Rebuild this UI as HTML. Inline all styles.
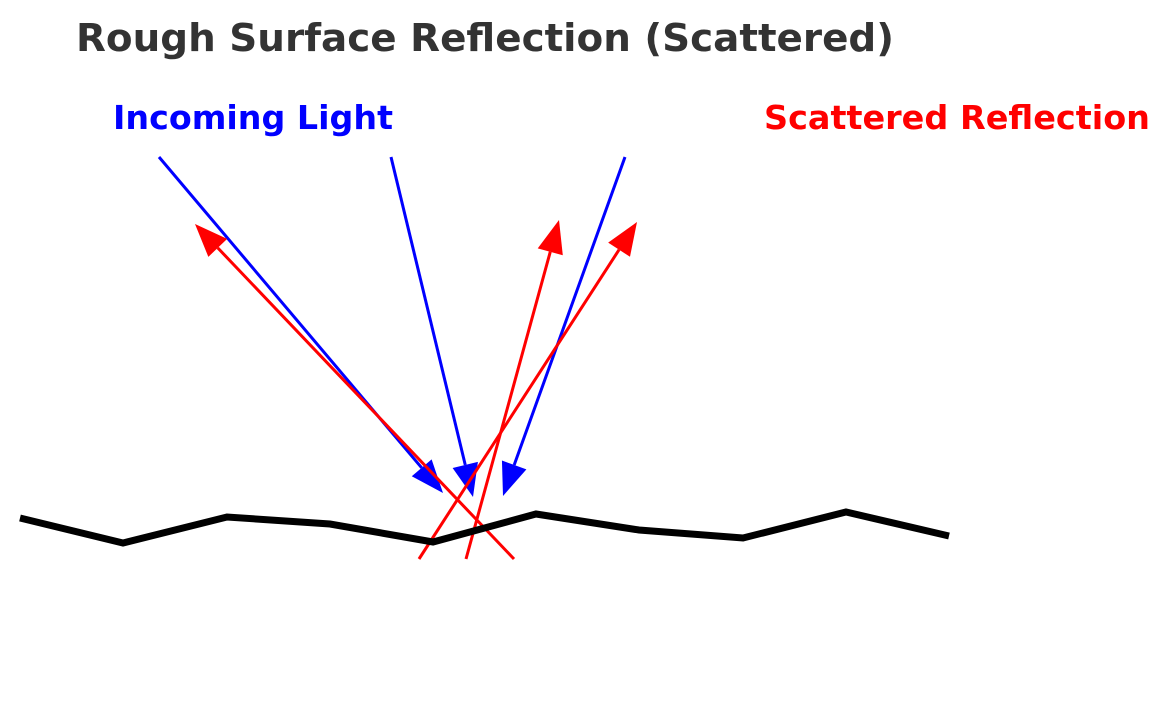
<!DOCTYPE html>
<html><head><meta charset="utf-8"><style>
body{margin:0;background:#fff;}
svg{display:block;font-family:"DejaVu Sans","Liberation Sans",sans-serif;font-weight:bold;}
</style></head><body>
<svg id="chart" width="1170" height="702" viewBox="0 0 1170 702">
<text x="76" y="51" font-size="38" fill="#333" textLength="818" lengthAdjust="spacingAndGlyphs">Rough Surface Reflection (Scattered)</text>
<text x="113" y="129" font-size="33" fill="#0000ff" textLength="280" lengthAdjust="spacingAndGlyphs">Incoming Light</text>
<text x="764" y="129" font-size="33" fill="#ff0000" textLength="386" lengthAdjust="spacingAndGlyphs">Scattered Reflection</text>
<g id="rays"></g>
</svg>
<script>
const surfaceX=[20,123,227,330,433,536,639,743,846,949];
const surfaceY=[518,543,517,524,542,514,530,538,512,536];
const incomingStart=[[159,157],[391,157],[625,157]];
const incomingEnd=[[443,493],[473,497],[503,496]];
const reflectStart=[[514,559],[466,559],[419,559]];
const reflectEnd=[[195,224],[559,220],[637,222]];
const NS='http://www.w3.org/2000/svg';
const g=document.getElementById('rays');
function arrow(s,e,color,name){
  const dx=e[0]-s[0],dy=e[1]-s[1],L=Math.hypot(dx,dy),ux=dx/L,uy=dy/L;
  const hl=33,hw=13;
  const bx=e[0]-ux*hl,by=e[1]-uy*hl;
  const ln=document.createElementNS(NS,'line');
  
  
  ln.setAttribute('x1',s[0]);ln.setAttribute('y1',s[1]);
  ln.setAttribute('x2',bx);ln.setAttribute('y2',by);
  ln.setAttribute('stroke',color);ln.setAttribute('stroke-width','3');
  g.appendChild(ln);
  const p=document.createElementNS(NS,'polygon');
  
  
  p.setAttribute('points',`${e[0]},${e[1]} ${bx-uy*hw},${by+ux*hw} ${bx+uy*hw},${by-ux*hw}`);
  p.setAttribute('fill',color);
  g.appendChild(p);
}
incomingStart.forEach((s,i)=>arrow(s,incomingEnd[i],'#0000ff','incoming-ray-'+(i+1)));
reflectStart.forEach((s,i)=>arrow(s,reflectEnd[i],'#ff0000','scattered-ray-'+(i+1)));
const pl=document.createElementNS(NS,'polyline');


pl.setAttribute('points',surfaceX.map((x,i)=>x+','+surfaceY[i]).join(' '));
pl.setAttribute('fill','none');pl.setAttribute('stroke','#000');pl.setAttribute('stroke-width','7');
g.appendChild(pl);
</script>
</body></html>
